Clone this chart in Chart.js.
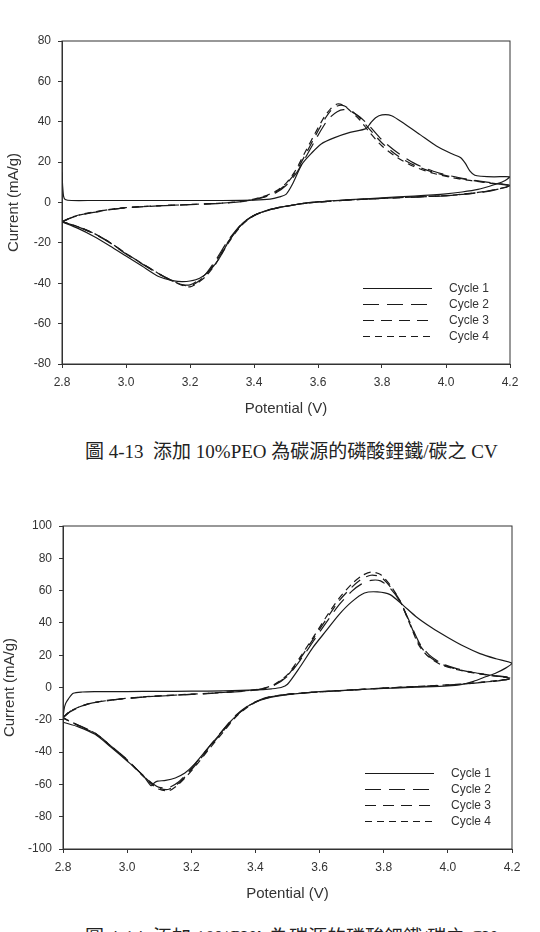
<!DOCTYPE html>
<html>
<head>
<meta charset="utf-8">
<script src="https://cdn.jsdelivr.net/npm/chart.js@4.4.1/dist/chart.umd.min.js"></script>
<style>
  html, body { margin: 0; padding: 0; background: #fff; }
  body { width: 540px; height: 932px; position: relative; overflow: hidden; }
  canvas { position: absolute; left: 0; }
  #c1 { top: 0; }
  #c2 { top: 485px; }
  .cap { position: absolute; left: 85px; white-space: pre; color: #222;
         font-family: "Liberation Serif", "Noto Sans CJK TC", serif; font-size: 19px; }
</style>
</head>
<body>
<canvas id="c1" width="540" height="425"></canvas>
<div class="cap" style="top:436px">圖 4-13  添加 10%PEO 為碳源的磷酸鋰鐵/碳之 CV</div>
<canvas id="c2" width="540" height="425"></canvas>
<div class="cap" style="top:922px">圖 4-14  添加 10%PVA 為碳源的磷酸鋰鐵/碳之 CV</div>
<script>
// axis ticks
var xTicks = [2.8, 3.0, 3.2, 3.4, 3.6, 3.8, 4.0, 4.2];
var peoYTicks = [-80, -60, -40, -20, 0, 20, 40, 60, 80];
var pvaYTicks = [-100, -80, -60, -40, -20, 0, 20, 40, 60, 80, 100];
var cycleLabels = ['Cycle 1', 'Cycle 2', 'Cycle 3', 'Cycle 4'];

// ---- 10% PEO ----
// cycle 1: anodic sweep 2.8 -> 4.2, then cathodic back to 2.8
var peoV1 = [2.800, 2.802, 2.805, 2.81, 2.83, 2.90, 3.00, 3.10, 3.20, 3.30, 3.40, 3.45, 3.48, 3.50, 3.52, 3.55, 3.58, 3.61, 3.65, 3.70,
             3.75, 3.765, 3.78, 3.80, 3.83, 3.87, 3.92, 3.97, 4.02, 4.045, 4.06, 4.075, 4.09, 4.11, 4.15, 4.20,
             4.18, 4.15, 4.10, 4.05, 4.00, 3.90, 3.80, 3.70, 3.60, 3.55, 3.50, 3.45, 3.40, 3.36, 3.32, 3.29, 3.26, 3.23,
             3.20, 3.175, 3.15, 3.10, 3.05, 3.00, 2.95, 2.90, 2.85, 2.80];
var peoI1 = [15, 8, 3, 1.5, 1.0, 1.0, 1.0, 1.0, 1.0, 1.0, 1.2, 1.7, 2.8, 4, 9, 19, 24.5, 29, 32, 34.7,
             36.6, 39.5, 42, 43.4, 43, 39, 33.5, 28, 24, 22.3, 19.5, 15.5, 13.5, 13, 12.7, 12.7,
             10.5, 8.8, 6.5, 5.2, 4.3, 3.2, 2.3, 1.4, 0.4, -0.5, -1.8, -3.4, -6.5, -11, -19.5, -28, -34, -37.5,
             -38.9, -39.2, -38.8, -36.5, -31.5, -26.5, -21.5, -16.8, -12.8, -9.6];
// cycles 2-4 share the sweep potentials
var peoV = [2.80, 2.83, 2.86, 2.90, 2.95, 3.00, 3.10, 3.20, 3.30, 3.38, 3.43, 3.47, 3.50, 3.53, 3.56, 3.59, 3.62, 3.64, 3.66, 3.68,
            3.70, 3.73, 3.76, 3.80, 3.85, 3.90, 3.96, 4.02, 4.08, 4.14, 4.20,
            4.15, 4.10, 4.05, 4.00, 3.90, 3.80, 3.70, 3.60, 3.55, 3.50, 3.45, 3.40, 3.36, 3.32, 3.28, 3.25, 3.22, 3.20,
            3.18, 3.15, 3.10, 3.05, 3.00, 2.95, 2.90, 2.85, 2.80];
var peoI2 = [-9.7, -7.5, -6.1, -4.9, -3.6, -2.6, -1.7, -1.1, -0.4, 0.8, 2.5, 5.0, 8.4, 14, 22, 30.5, 38.5, 42.5, 45, 46,
             45.3, 42.5, 38, 31, 24.5, 19.5, 15.5, 13, 11.2, 9.8, 8.5,
             6.1, 4.8, 4.0, 3.3, 2.7, 2.0, 1.3, 0.2, -0.6, -1.8, -3.5, -6.3, -10.8, -18.6, -28.6, -35.2, -39.2, -40.8,
             -40.8, -39.2, -35.2, -30.4, -25.5, -20, -15.5, -12.1, -9.5];
var peoI3 = [-9.6, -7.4, -6.0, -4.8, -3.5, -2.6, -1.7, -1.0, -0.3, 0.9, 2.8, 5.4, 9.0, 15, 23.5, 32.5, 41, 45.5, 47.8, 48,
             46, 42, 36.5, 29.5, 23, 18.5, 15, 12.6, 11, 9.6, 8.3,
             6.2, 4.9, 4.0, 3.4, 2.7, 2.0, 1.3, 0.2, -0.6, -1.9, -3.6, -6.4, -11.2, -19.3, -29.5, -35.8, -39.8, -41.3,
             -41, -39.2, -35, -30.2, -25.2, -19.8, -15.3, -12, -9.5];
var peoI4 = [-9.5, -7.3, -5.9, -4.7, -3.4, -2.5, -1.6, -1.0, -0.3, 1.0, 3.0, 5.8, 9.5, 16, 25, 34, 42.5, 46.5, 48.8, 48.2,
             45.5, 41, 35, 28, 22, 17.8, 14.5, 12.3, 10.8, 9.5, 8.2,
             6.3, 5.0, 4.1, 3.4, 2.7, 2.0, 1.3, 0.2, -0.6, -1.9, -3.6, -6.5, -11.5, -20, -30.5, -36.5, -40.3, -41.8,
             -41.3, -39.3, -35, -30.2, -25.3, -19.8, -15.3, -12, -9.5];

// ---- 10% PVA ----
var pvaV1 = [2.800, 2.800, 2.803, 2.808, 2.817, 2.832, 2.86, 2.90, 3.00, 3.10, 3.20, 3.30, 3.40, 3.45, 3.48, 3.50, 3.54, 3.58, 3.62, 3.66,
             3.70, 3.74, 3.78, 3.82, 3.86, 3.90, 3.95, 4.00, 4.05, 4.10, 4.15, 4.20,
             4.18, 4.15, 4.12, 4.08, 4.04, 4.00, 3.90, 3.80, 3.70, 3.60, 3.50, 3.45, 3.40, 3.36, 3.32, 3.28, 3.25, 3.21,
             3.18, 3.15, 3.12, 3.095, 3.085, 3.075, 3.05, 3.00, 2.95, 2.90, 2.85, 2.80];
var pvaI1 = [-38, -20, -14, -10, -7, -3.6, -2.8, -2.6, -2.5, -2.4, -2.3, -2.1, -1.5, -0.8, 0, 2, 13, 25, 35, 45,
             53, 58.5, 59.2, 57.5, 51, 44, 37, 31, 25.5, 21, 17.8, 15,
             12, 9, 6.8, 3.8, 1.8, 1.0, 0.2, -0.6, -1.5, -2.6, -4.4, -6, -9, -14, -21.5, -31, -38, -47.5,
             -53, -56, -57.5, -58, -59, -60.8, -54.5, -45.5, -37, -29, -24.5, -21.5];
var pvaV = [2.80, 2.82, 2.85, 2.88, 2.92, 2.97, 3.05, 3.15, 3.25, 3.35, 3.42, 3.46, 3.50, 3.54, 3.58, 3.62, 3.66, 3.70, 3.73, 3.76,
            3.79, 3.82, 3.85, 3.88, 3.91, 3.94, 3.98, 4.03, 4.08, 4.14, 4.20,
            4.15, 4.10, 4.05, 4.00, 3.90, 3.80, 3.70, 3.60, 3.55, 3.50, 3.45, 3.42, 3.38, 3.34, 3.30, 3.26, 3.22, 3.19,
            3.16, 3.13, 3.10, 3.08, 3.05, 3.00, 2.95, 2.90, 2.85, 2.80];
var pvaI2 = [-18.8, -15.3, -12.3, -10.2, -8.7, -7.4, -6.0, -4.8, -3.8, -2.5, -1.0, 1.5, 7, 17, 28.5, 40, 51, 59.5, 64, 66.3,
             66, 61.5, 53.5, 41, 28, 20.5, 15, 11.5, 9.3, 7.5, 5.8,
             4.0, 3.0, 2.1, 1.4, 0.5, -0.4, -1.6, -2.7, -3.4, -4.2, -5.6, -7.1, -10.9, -17, -26, -35.5, -45.5, -52.5,
             -58.5, -62, -61.8, -59.6, -54.5, -44.7, -36.2, -28.2, -23.5, -18.7];
var pvaI3 = [-18.6, -15.1, -12.1, -10.1, -8.6, -7.3, -5.9, -4.7, -3.7, -2.4, -0.9, 1.8, 7.5, 18, 30, 42, 53.5, 62, 67, 69.5,
             68.5, 62.5, 54, 40.5, 27, 19.5, 14.5, 11.2, 9.2, 7.4, 5.7,
             4.1, 3.1, 2.2, 1.5, 0.5, -0.4, -1.6, -2.7, -3.4, -4.2, -5.7, -7.3, -11.2, -17.5, -26.8, -36.3, -46.3, -53.3,
             -59.3, -63, -62.5, -60, -54.7, -44.8, -36.3, -28.3, -23.6, -18.8];
var pvaI4 = [-18.5, -15, -12, -10, -8.5, -7.2, -5.8, -4.6, -3.6, -2.3, -0.8, 2, 8, 19, 31, 43.5, 55, 64, 69, 71.5,
             70, 63.5, 54, 40, 26, 19, 14, 11, 9, 7.2, 5.6,
             4.2, 3.2, 2.3, 1.6, 0.6, -0.3, -1.5, -2.7, -3.4, -4.3, -5.8, -7.5, -11.5, -18, -27.5, -37, -47, -54,
             -60, -64, -63, -60.5, -55, -45, -36.5, -28.5, -23.8, -19];

var dashes = [[], [16, 8], [11, 7], [7, 5]];
var lineColor = '#1a1a1a';

Chart.defaults.font.family = '"Liberation Sans", Arial, sans-serif';
Chart.defaults.color = '#333';

function pts(xs, ys) {
    return xs.map(function (x, i) { return { x: x, y: ys[i] }; });
}

// box round the plot area
var frame = {
    id: 'frame',
    afterDraw: function (chart) {
        var a = chart.chartArea, ctx = chart.ctx;
        ctx.save();
        ctx.strokeStyle = '#333';
        ctx.lineWidth = 1;
        ctx.strokeRect(a.left, a.top, a.right - a.left, a.bottom - a.top);
        ctx.restore();
    }
};

// legend sits inside the plot, lower right
var insetLegend = {
    id: 'insetLegend',
    afterDraw: function (chart) {
        var a = chart.chartArea, ctx = chart.ctx;
        chart.data.datasets.forEach(function (ds, i) {
            var y = Math.round(a.bottom - 76.5 + i * 16.1) + 0.5;
            ctx.save();
            ctx.strokeStyle = ds.borderColor;
            ctx.lineWidth = 1.2;
            ctx.setLineDash(ds.borderDash);
            ctx.beginPath();
            ctx.moveTo(a.right - 147, y);
            ctx.lineTo(a.right - 78, y);
            ctx.stroke();
            ctx.setLineDash([]);
            ctx.fillStyle = '#333';
            ctx.font = '12px "Liberation Sans", Arial, sans-serif';
            ctx.textBaseline = 'middle';
            ctx.fillText(ds.label, a.right - 61, y);
            ctx.restore();
        });
    }
};

function makeChart(id, series, yTicks, yWidth, rightPad, yTitlePad) {
    var datasets = series.map(function (s, i) {
        return {
            label: cycleLabels[i],
            data: pts(s[0], s[1]),
            showLine: true,
            borderColor: lineColor,
            borderWidth: 1.2,
            borderDash: dashes[i],
            pointRadius: 0,
            tension: 0.25
        };
    });
    return new Chart(document.getElementById(id), {
        type: 'scatter',
        data: { datasets: datasets },
        plugins: [frame, insetLegend],
        options: {
            responsive: false,
            animation: false,
            layout: { padding: { top: 41, right: rightPad, left: 0, bottom: 0 } },
            plugins: { legend: { display: false }, tooltip: { enabled: false } },
            scales: {
                x: {
                    type: 'linear', min: 2.8, max: 4.2,
                    afterBuildTicks: function (axis) { axis.ticks = xTicks.map(function (v) { return { value: v }; }); },
                    afterFit: function (axis) { axis.height = 61; },
                    grid: { drawOnChartArea: false, tickLength: 4, color: '#333' },
                    border: { color: '#333' },
                    ticks: { padding: 7, font: { size: 12 }, callback: function (v) { return v.toFixed(1); } },
                    title: { display: true, text: 'Potential (V)', font: { size: 15 }, padding: { top: 0, bottom: 7 } }
                },
                y: {
                    min: yTicks[0], max: yTicks[yTicks.length - 1],
                    afterBuildTicks: function (axis) { axis.ticks = yTicks.map(function (v) { return { value: v }; }); },
                    afterFit: function (axis) { axis.width = yWidth; },
                    grid: { drawOnChartArea: false, tickLength: 4, color: '#333' },
                    border: { color: '#333' },
                    ticks: { padding: 7, font: { size: 12 } },
                    title: { display: true, text: 'Current (mA/g)', font: { size: 15 }, padding: { top: yTitlePad, bottom: 0 } }
                }
            }
        }
    });
}

makeChart('c1', [[peoV1, peoI1], [peoV, peoI2], [peoV, peoI3], [peoV, peoI4]], peoYTicks, 62, 30, 5);
makeChart('c2', [[pvaV1, pvaI1], [pvaV, pvaI2], [pvaV, pvaI3], [pvaV, pvaI4]], pvaYTicks, 63, 28, 1);
</script>
</body>
</html>
